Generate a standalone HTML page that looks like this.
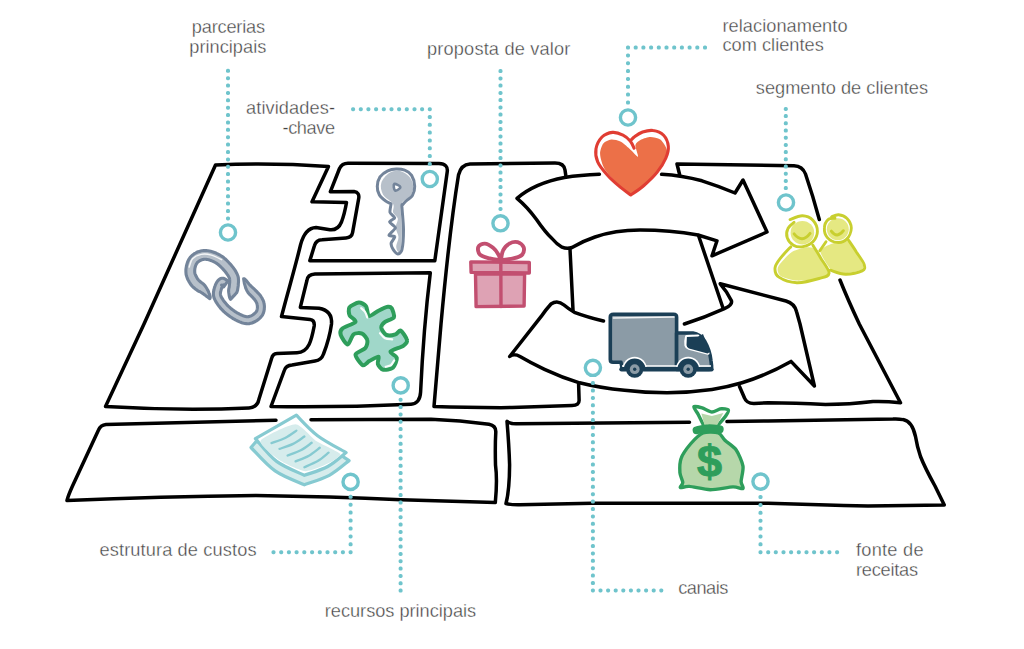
<!DOCTYPE html>
<html><head><meta charset="utf-8"><title>Business Model Canvas</title>
<style>
html,body{margin:0;padding:0;background:#fff;}
body{width:1024px;height:649px;overflow:hidden;}
svg{display:block;}
text{font-family:"Liberation Sans",sans-serif;font-size:18.2px;fill:#424242;stroke:#fff;stroke-width:.35px;}
</style></head><body>
<svg width="1024" height="649" viewBox="0 0 1024 649">
<rect width="1024" height="649" fill="#fff"/>
<g id="outlines">
<path d="M215.5,165 Q270,162.5 328.5,166.5 L312,201.8 L346.5,202.5 Q344.5,214 341.5,222 Q338,230.5 330,229.8 L316,227.6 Q305,228 300.5,245 C295,268 287,295 281.5,316.5 L310,319.4 Q314.8,320 314.2,326 C311.5,340 309,352.5 297,352.7 L277,353.4 Q272.6,353.7 271.6,358.5 L259,399 Q257.5,407.5 249,408 Q180,411 105.5,406.5 L144,324 Z" fill="none" stroke="#000" stroke-width="3.5" stroke-linecap="round" stroke-linejoin="round"/>
<path d="M339.5,168.5 Q342,163.2 348,163.2 L439,163.6 Q448.5,164 447.2,172 L434.8,260.8 L309.8,260.8 L314.5,245.5 Q316,240 322,239.7 L346,237.9 Q351.8,237.5 352.6,232.5 L358.6,199 Q360,192.5 354,191.6 L330.3,191.8 Z" fill="none" stroke="#000" stroke-width="3.5" stroke-linecap="round" stroke-linejoin="round"/>
<path d="M306.8,281 Q307.5,274.2 315,274 L430.3,272.8 C427,300 423,340 420.6,392 Q420,403.6 411,404.2 Q340,407.5 271,406.5 L284.5,370 Q286,365.5 292,365 L315,361 Q321.5,360 323.5,354 C327,345 330,335 331.5,324 Q332.5,310.5 319,308.2 L300.3,307.4 Z" fill="none" stroke="#000" stroke-width="3.5" stroke-linecap="round" stroke-linejoin="round"/>
<path d="M565.8,175.5 L565,170 Q564,163 555,163 L470,164 Q461,164.5 458.5,175 C452,215 445,280 441,324 L434,406.5 Q470,407.8 512,407.6 L572,405.6 Q579.4,405.3 579.1,400 L578.6,384" fill="none" stroke="#000" stroke-width="3.5" stroke-linecap="round" stroke-linejoin="round"/>
<path d="M599.4,174.3 Q580,175 564.5,177.5 Q535,183 517,198.3 Q527.5,207 536.5,219.5 Q545,232 552,238.5 Q557,244.5 562,247.2 Q567,249.3 572,247.5 Q583,241 595,237 Q615,230 640,230 Q670,230 698,235 L717,240.8 L712,255.8 L767,232 L743,180 L735,193 Q720,186.5 702,180.8 Q682,175.5 661.6,174.3" fill="none" stroke="#000" stroke-width="3.5" stroke-linecap="round" stroke-linejoin="round"/>
<path d="M570,249 L573,310" fill="none" stroke="#000" stroke-width="3.5" stroke-linecap="round" stroke-linejoin="round"/>
<path d="M698.5,235.5 L723,308" fill="none" stroke="#000" stroke-width="3.5" stroke-linecap="round" stroke-linejoin="round"/>
<path d="M603.5,321 Q587,317 574.4,312.3 Q568,308.5 564,305 Q557.5,299.5 551,304 Q545.5,310 541,316.7 L509.7,356.5 Q514,353 520,356.5 Q531,363 544.5,369.3 Q562,377.5 579.5,382.8 Q600,388 624.5,390.3 Q645,392.8 667,392.8 Q690,392.6 712,389.5 Q728,387 742,382.8 Q767,375 791,361.4 L814.4,386 L800,324 L796.5,311.5 Q794.5,303.5 786,301 Q750,291.5 720.2,283.8 Q727,291.5 731.3,300.4 Q733,305 724.4,308.7 Q705,317.5 684.4,324" fill="none" stroke="#000" stroke-width="3.5" stroke-linecap="round" stroke-linejoin="round"/>
<path d="M679.6,174.5 L677,164 L794,165.7 Q802.5,166 805.5,174 Q813,196 819.3,219.5" fill="none" stroke="#000" stroke-width="3.5" stroke-linecap="round" stroke-linejoin="round"/>
<path d="M840,280 Q848,300 859.3,324 L900.5,402.8 Q885,401 873,401.5 Q850,404.5 825.5,404.5 Q795,402.8 768,402.8 L754,403.4 Q746.5,403.5 744.5,398 L739.5,386.5" fill="none" stroke="#000" stroke-width="3.5" stroke-linecap="round" stroke-linejoin="round"/>
<path d="M276,420.3 L106,424.5 Q100.5,425 98.5,430 L72.5,486 Q68,496 67,500.5 Q160,496.5 256,495.5 Q330,496.5 401,499.8 L495.3,502.6 Q497.5,480 495.5,465 Q495,445 495.8,432 Q496,425.5 489,424.2 Q460,420.3 431,419.2 L311,419.8" fill="none" stroke="#000" stroke-width="3.5" stroke-linecap="round" stroke-linejoin="round"/>
<path d="M689.5,422.3 L517,423.8 Q510,424 507,421.3 Q509,445 509.6,464.7 Q509.5,490 506,503.5 Q511,505 520,504.8 L592,503.2 L768,503.2 Q820,505 868,506 L944.3,505 L935,486 Q925,468 920.5,456.5 Q917,446 915.5,436.5 Q912,421 903,419.6 Q898,418.6 893,419 L768,421 L727,421.6" fill="none" stroke="#000" stroke-width="3.5" stroke-linecap="round" stroke-linejoin="round"/>
</g>
<g id="icons">
<path d="M243.6,278.8 L243.7,279.2 L243.8,279.8 L243.9,280.5 L244.0,281.2 L244.2,282.1 L244.3,283.0 L244.5,283.9 L244.8,284.9 L245.1,285.9 L245.4,286.9 L245.7,288.0 L246.2,289.1 L246.7,290.2 L247.3,291.3 L248.0,292.5 L248.8,293.5 L249.7,294.5 L250.7,295.4 L251.6,296.3 L252.5,297.2 L253.3,298.1 L254.0,298.8 L254.6,299.6 L255.0,300.2 L255.5,300.8 L255.8,301.4 L256.2,302.0 L256.4,302.5 L256.7,303.0 L256.8,303.5 L257.0,303.9 L257.1,304.3 L257.2,304.8 L257.3,305.2 L257.3,305.7 L257.4,306.2 L257.4,306.8 L257.4,307.3 L257.4,307.9 L257.3,308.5 L257.2,309.0 L257.1,309.6 L257.0,310.1 L256.8,310.6 L256.7,311.0 L256.4,311.4 L256.2,311.8 L255.9,312.1 L255.6,312.5 L255.1,313.0 L254.6,313.5 L253.9,314.0 L253.3,314.5 L252.6,315.0 L251.9,315.4 L251.1,315.8 L250.4,316.1 L249.8,316.3 L249.2,316.5 L248.6,316.6 L248.1,316.7 L247.5,316.7 L246.8,316.7 L246.1,316.6 L245.4,316.4 L244.7,316.2 L243.9,316.0 L243.1,315.7 L242.3,315.4 L241.4,315.0 L240.5,314.6 L239.6,314.2 L238.7,313.7 L237.7,313.2 L236.7,312.6 L235.7,311.9 L234.7,311.3 L233.6,310.5 L232.6,309.8 L231.6,309.0 L230.6,308.2 L229.7,307.4 L228.8,306.6 L228.0,305.9 L227.2,305.1 L226.5,304.2 L225.7,303.3 L224.9,302.4 L224.2,301.5 L223.5,300.6 L222.9,299.6 L222.3,298.7 L221.8,297.9 L221.3,297.1 L221.0,296.3 L220.7,295.6 L220.6,295.1 L220.5,294.6 L220.4,294.0 L220.4,293.5 L220.4,292.9 L220.5,292.4 L220.6,291.8 L220.8,291.1 L220.9,290.5 L221.1,289.9 L221.3,289.2 L221.5,288.6 L221.7,288.1 L221.8,287.6 L222.1,287.2 L222.3,286.7 L222.5,286.3 L222.8,285.9 L223.0,285.5 L223.2,285.2 L223.4,285.0 L223.5,284.9 L223.5,284.9 L223.2,285.1 L222.5,285.2 L221.9,285.2 L221.6,285.1 L221.6,285.1 L221.7,285.2 L221.9,285.3 L222.1,285.5 L222.4,285.8 L222.7,286.1 L223.0,286.3 L223.4,286.7 L223.7,286.9 L227.8,281.2 L227.7,281.2 L227.6,281.1 L227.4,280.9 L227.1,280.6 L226.7,280.2 L226.2,279.8 L225.7,279.4 L225.0,279.0 L224.2,278.6 L223.2,278.3 L221.9,278.3 L220.5,278.6 L219.6,279.1 L218.9,279.7 L218.3,280.2 L217.8,280.8 L217.3,281.4 L216.9,282.1 L216.5,282.8 L216.1,283.5 L215.7,284.2 L215.4,285.0 L215.1,285.8 L214.8,286.5 L214.6,287.2 L214.4,287.9 L214.2,288.6 L214.0,289.5 L213.8,290.3 L213.6,291.3 L213.5,292.3 L213.4,293.3 L213.4,294.4 L213.5,295.6 L213.8,296.8 L214.1,298.0 L214.6,299.1 L215.1,300.2 L215.7,301.3 L216.3,302.4 L217.1,303.5 L217.8,304.6 L218.6,305.7 L219.5,306.8 L220.3,307.9 L221.2,308.9 L222.2,309.9 L223.1,310.8 L224.1,311.8 L225.1,312.7 L226.2,313.6 L227.3,314.5 L228.4,315.4 L229.6,316.2 L230.7,317.0 L231.9,317.8 L233.1,318.6 L234.2,319.2 L235.4,319.9 L236.5,320.4 L237.5,321.0 L238.6,321.4 L239.6,321.9 L240.7,322.3 L241.8,322.7 L242.8,323.0 L243.9,323.3 L245.0,323.5 L246.2,323.6 L247.3,323.7 L248.5,323.7 L249.6,323.6 L250.8,323.3 L252.0,323.0 L253.1,322.5 L254.2,322.0 L255.3,321.5 L256.3,320.9 L257.3,320.2 L258.2,319.6 L259.1,318.8 L259.9,318.1 L260.6,317.4 L261.3,316.6 L262.0,315.7 L262.6,314.8 L263.0,313.9 L263.4,313.0 L263.7,312.0 L264.0,311.1 L264.1,310.2 L264.3,309.3 L264.3,308.4 L264.4,307.5 L264.4,306.7 L264.4,305.9 L264.3,305.1 L264.2,304.3 L264.1,303.5 L263.9,302.7 L263.7,301.8 L263.4,301.0 L263.1,300.2 L262.7,299.5 L262.3,298.7 L261.9,297.9 L261.3,297.0 L260.8,296.2 L260.1,295.2 L259.3,294.3 L258.4,293.3 L257.5,292.4 L256.6,291.4 L255.6,290.5 L254.7,289.5 L253.8,288.6 L252.9,287.8 L252.1,287.1 L251.3,286.4 L250.6,285.8 L250.0,285.1 L249.4,284.5 L248.8,283.8 L248.2,283.1 L247.6,282.3 L247.1,281.6 L246.6,281.0 L246.0,280.3 L245.5,279.8 L245.0,279.3 L244.5,278.9 L243.6,278.8Z" fill="#b7c0ca" stroke="#73849a" stroke-width="3.1" stroke-linejoin="round"/>
<path d="M209.8,298.7 L210.2,297.7 L210.2,296.8 L210.0,295.9 L209.7,294.9 L209.4,293.9 L208.9,292.8 L208.5,291.7 L208.0,290.6 L207.4,289.6 L206.8,288.5 L206.2,287.5 L205.6,286.6 L204.9,285.6 L204.1,284.7 L203.3,284.0 L202.5,283.3 L201.8,282.8 L201.0,282.2 L200.4,281.7 L199.8,281.2 L199.3,280.8 L198.8,280.4 L198.4,279.9 L198.1,279.5 L197.6,278.9 L197.2,278.2 L196.8,277.5 L196.4,276.8 L196.0,276.1 L195.7,275.4 L195.4,274.7 L195.1,274.0 L194.9,273.4 L194.8,272.7 L194.7,272.2 L194.7,271.6 L194.7,270.9 L194.7,270.1 L194.8,269.3 L194.9,268.4 L195.1,267.5 L195.3,266.7 L195.6,265.8 L195.9,265.0 L196.2,264.3 L196.5,263.7 L196.9,263.2 L197.2,262.8 L197.6,262.3 L198.1,261.9 L198.6,261.5 L199.2,261.1 L199.9,260.7 L200.6,260.3 L201.3,260.0 L202.0,259.8 L202.7,259.6 L203.5,259.4 L204.2,259.3 L204.9,259.3 L205.7,259.3 L206.6,259.4 L207.6,259.6 L208.6,259.8 L209.7,260.1 L210.8,260.5 L211.9,260.9 L213.0,261.4 L214.1,261.9 L215.2,262.5 L216.2,263.1 L217.2,263.8 L218.2,264.5 L219.2,265.4 L220.3,266.4 L221.4,267.5 L222.6,268.7 L223.7,269.9 L224.7,271.1 L225.7,272.3 L226.6,273.5 L227.4,274.7 L228.1,275.7 L228.6,276.6 L229.0,277.4 L229.3,278.0 L229.5,278.6 L229.6,279.2 L229.7,279.7 L229.7,280.3 L229.7,280.9 L229.7,281.6 L229.7,282.4 L229.6,283.2 L229.5,284.2 L229.4,285.2 L229.3,286.1 L229.2,287.1 L228.9,288.3 L228.7,289.5 L228.6,290.8 L228.7,292.2 L228.9,293.6 L229.1,294.9 L229.3,296.2 L229.6,297.4 L230.0,298.4 L230.6,299.3 L230.6,299.3 L231.2,298.7 L231.8,298.0 L232.6,297.1 L233.5,296.1 L234.5,295.1 L235.5,294.0 L236.6,292.8 L237.2,291.4 L237.6,290.0 L237.8,288.6 L238.0,287.3 L238.2,286.0 L238.3,285.0 L238.3,284.0 L238.4,283.1 L238.5,282.1 L238.5,281.0 L238.5,279.9 L238.4,278.7 L238.3,277.5 L238.0,276.3 L237.5,275.0 L237.0,273.7 L236.3,272.4 L235.6,271.1 L234.7,269.7 L233.7,268.3 L232.6,266.9 L231.5,265.5 L230.3,264.1 L229.0,262.7 L227.7,261.3 L226.4,260.0 L225.0,258.8 L223.7,257.6 L222.3,256.6 L220.9,255.7 L219.5,254.8 L218.1,254.1 L216.6,253.4 L215.2,252.7 L213.7,252.2 L212.2,251.7 L210.7,251.3 L209.3,251.0 L207.8,250.7 L206.4,250.6 L205.0,250.5 L203.6,250.6 L202.1,250.7 L200.7,251.0 L199.4,251.4 L198.1,251.8 L196.8,252.3 L195.6,253.0 L194.5,253.6 L193.4,254.4 L192.4,255.2 L191.4,256.1 L190.5,257.0 L189.7,258.1 L188.9,259.3 L188.3,260.5 L187.7,261.7 L187.3,263.0 L186.9,264.3 L186.5,265.6 L186.3,266.9 L186.1,268.1 L185.9,269.4 L185.9,270.6 L185.9,271.9 L186.0,273.1 L186.1,274.4 L186.4,275.6 L186.8,276.8 L187.2,277.9 L187.6,279.0 L188.1,280.0 L188.7,281.0 L189.2,282.0 L189.8,282.9 L190.3,283.8 L191.0,284.7 L191.7,285.6 L192.5,286.5 L193.3,287.3 L194.2,288.0 L195.0,288.7 L195.8,289.3 L196.5,289.8 L197.2,290.3 L197.8,290.8 L198.6,291.2 L199.3,291.4 L200.0,291.7 L200.8,292.2 L201.6,292.7 L202.6,293.3 L203.5,294.0 L204.5,294.7 L205.4,295.4 L206.3,296.1 L207.2,296.7 L208.0,297.3 L208.7,297.9 L209.3,298.4 L209.8,298.7Z" fill="#b7c0ca" stroke="#73849a" stroke-width="3.1" stroke-linejoin="round"/>
<path d="M189.2,267.1 C189.8,265.7 190.5,260.9 192.5,258.8 C194.5,256.7 198.1,255.0 201.3,254.4 C204.4,253.7 208.0,254.2 211.4,255.1 C214.8,256.0 219.9,258.9 221.6,259.7" fill="none" stroke="#fff" stroke-width="1.4" stroke-linecap="round" opacity=".85"/>
<path d="M393.1,203.9 C391.5,201.0 385.1,198.1 383.1,194.7 C381.1,191.2 380.2,186.7 381.3,183.1 C382.3,179.5 386.1,175.1 389.3,173.1 C392.4,171.1 396.6,170.3 400.1,171.1 C403.5,171.9 407.9,174.9 410.1,177.7 C412.3,180.5 413.2,184.7 413.2,187.7 C413.2,190.8 412.1,193.4 410.1,196.2 C408.1,199.0 402.7,199.2 401.3,204.7 C399.9,210.2 402.0,222.0 401.9,229.3 C401.8,236.7 401.5,244.9 400.8,248.6 C400.2,252.3 398.8,252.1 398.1,251.7 C397.3,251.3 396.1,248.7 396.2,246.3 C396.3,243.8 398.6,240.1 398.5,237.0 C398.4,234.0 395.9,230.9 395.7,227.8 C395.6,224.7 398.2,221.1 397.8,218.6 C397.3,216.0 393.9,214.8 393.1,212.4 C392.4,209.9 394.8,206.9 393.1,203.9Z" fill="#b7c0ca"/>
<path d="M391.1,203.9 C390.2,203.4 387.4,202.4 385.4,200.8 C383.4,199.3 380.6,197.1 379.3,194.7 C377.9,192.2 377.1,189.1 377.3,186.2 C377.4,183.2 378.3,179.5 380.0,176.9 C381.8,174.4 385.0,172.1 387.7,170.8 C390.4,169.5 393.4,169.0 396.2,168.9 C399.0,168.8 402.1,169.1 404.7,170.2 C407.3,171.2 409.9,172.7 411.6,175.4 C413.3,178.1 414.6,182.9 414.7,186.2 C414.8,189.5 413.8,193.0 412.4,195.4 C411.0,197.9 407.9,199.2 406.2,200.8 C404.6,202.4 403.0,204.3 402.4,205.0  C402.3,205.1 401.8,203.4 401.9,206.2 C402.0,209.1 403.5,224.3 403.5,229.3 C403.5,234.4 402.6,247.0 401.9,249.8 C401.2,252.7 398.8,254.0 397.8,254.0 C396.7,253.9 393.9,250.6 393.1,249.4 C392.4,248.1 390.9,244.7 391.1,243.2 C391.3,241.7 395.1,237.5 394.8,236.6 C394.6,235.6 388.9,236.2 389.0,235.2 C389.0,234.2 395.4,229.3 395.4,227.8 C395.5,226.3 389.7,223.1 389.6,221.9 C389.5,220.8 394.6,218.9 394.7,217.8 C394.7,216.7 390.5,214.0 390.0,212.4 C389.6,210.8 391.0,204.9 391.1,203.9" fill="none" stroke="#73849a" stroke-width="3" stroke-linecap="round" stroke-linejoin="round"/>
<path d="M394.2,184.0 C395.3,183.4 400.2,185.8 400.4,187.1 C400.6,188.4 396.4,191.1 395.1,190.5 C393.9,189.9 393.2,184.7 394.2,184.0Z" fill="#fff" stroke="#73849a" stroke-width="2.6" stroke-linejoin="round"/>
<path d="M475.5,274.1 L524.6,274.1 L524.1,306.0 L476.1,306.6 Z" fill="#dea2b4" stroke="#c24f70" stroke-width="3.4" stroke-linecap="round" stroke-linejoin="round"/>
<path d="M470.8,261.9 L529.3,262.5 L529.3,273.0 L471.1,272.4 Z" fill="#dea2b4" stroke="#c24f70" stroke-width="3.4" stroke-linecap="round" stroke-linejoin="round"/>
<path d="M500.8,260.8 L501.0,306.6" fill="none" stroke="#c24f70" stroke-width="3.4" stroke-linecap="round" stroke-linejoin="round"/>
<path d="M500.5,260.2 C498.7,259.9 493.1,259.4 489.7,258.4 C486.3,257.5 481.9,256.6 480.0,254.7 C478.1,252.8 477.5,248.8 478.3,246.9 C479.1,245.1 482.3,243.5 484.8,243.6 C487.3,243.7 490.8,245.9 493.1,247.8 C495.5,249.6 497.5,252.9 498.7,255.0 C499.9,257.0 500.2,259.4 500.5,260.2" fill="none" stroke="#c24f70" stroke-width="3.9" stroke-linecap="round" stroke-linejoin="round"/>
<path d="M501.0,260.2 C501.3,258.7 501.5,253.6 502.9,250.8 C504.2,248.0 506.9,245.0 509.4,243.6 C511.8,242.2 515.3,241.6 517.7,242.2 C520.1,242.8 523.0,245.2 523.7,247.3 C524.3,249.5 523.6,253.1 521.9,255.0 C520.1,256.8 516.7,257.6 513.3,258.4 C509.8,259.3 503.1,259.9 501.0,260.2" fill="none" stroke="#c24f70" stroke-width="3.9" stroke-linecap="round" stroke-linejoin="round"/>
<path d="M630.8,194.0 C626.3,194.8 621.2,187.5 617.7,184.2 C614.3,180.9 607.0,173.1 604.6,169.1 C602.3,165.1 600.2,157.5 600.1,154.1 C599.9,150.6 601.9,145.5 603.3,143.6 C604.8,141.7 608.9,139.9 611.2,139.6 C613.5,139.4 617.9,140.4 620.4,141.6 C622.8,142.8 627.2,146.8 629.5,148.8 C631.9,150.8 637.3,157.2 638.0,156.7 C638.8,156.1 635.0,147.2 635.4,144.9 C635.9,142.6 639.3,140.7 641.3,139.6 C643.3,138.6 648.0,137.0 650.5,137.0 C653.0,137.0 658.1,137.9 660.3,139.6 C662.5,141.4 666.3,147.0 666.9,150.1 C667.4,153.3 666.2,159.5 664.2,163.2 C662.2,167.0 656.3,174.2 651.8,178.3 C647.3,182.4 635.4,193.2 630.8,194.0Z" fill="#ec7048"/>
<path d="M634.1,148.2 C633.5,147.0 632.0,143.1 630.2,141.0 C628.3,138.8 625.9,136.5 623.0,135.1 C620.0,133.6 616.0,132.1 612.5,132.4 C609.0,132.8 604.8,134.3 602.0,137.0 C599.3,139.8 596.7,144.7 596.0,148.8 C595.3,153.0 595.8,157.5 597.7,161.9 C599.6,166.3 603.7,171.0 607.3,175.0 C610.8,179.0 615.1,182.8 619.1,186.1 C623.0,189.5 628.9,193.6 630.8,195.0 C633.0,193.5 639.6,189.3 643.9,185.5 C648.3,181.7 653.4,177.0 657.0,172.4 C660.7,167.8 664.1,162.3 665.9,158.0 C667.8,153.6 668.7,150.0 668.3,146.2 C667.9,142.4 666.1,137.9 663.6,135.3 C661.1,132.7 656.6,131.0 653.1,130.5 C649.6,129.9 645.7,131.0 642.6,132.0 C639.6,133.1 636.8,135.1 634.8,136.6 C632.7,138.1 631.0,140.2 630.2,141.0" fill="none" stroke="#e03d33" stroke-width="3.1" stroke-linecap="round" stroke-linejoin="round"/>
<path d="M828.1,245.2 C831.3,244.0 844.2,239.1 848.2,241.3 C852.3,243.6 861.3,261.3 862.8,264.6 C864.2,268.0 862.7,269.2 860.7,270.2 C858.7,271.2 848.8,273.0 845.4,273.0 C842.0,273.0 834.5,272.6 831.6,270.2 C828.7,267.8 820.9,255.1 820.5,252.2 C820.1,249.2 824.9,246.5 828.1,245.2Z" fill="#e5e882"/>
<circle cx="837.8" cy="229.3" r="11" fill="#e5e882"/>
<path d="M826.0,241.8 C825.0,243.3 820.8,249.3 819.8,250.8" fill="none" stroke="#c8cf2f" stroke-width="2.9" stroke-linecap="round" stroke-linejoin="round"/>
<path d="M848.2,239.7 C849.6,241.8 853.9,248.0 856.5,252.2 C859.2,256.3 863.2,261.5 864.2,264.6 C865.1,267.8 865.2,269.3 862.1,270.9 C859.0,272.5 850.8,274.5 845.4,274.3 C840.1,274.2 832.7,270.9 830.2,270.2" fill="none" stroke="#c8cf2f" stroke-width="2.9" stroke-linecap="round" stroke-linejoin="round"/>
<path d="M835.0,218.2 C833.9,218.4 829.9,217.9 828.1,219.6 C826.3,221.2 824.5,224.9 824.4,227.9 C824.2,230.9 825.3,235.2 827.4,237.6 C829.5,240.0 833.9,242.2 837.1,242.4 C840.4,242.7 844.5,241.4 846.8,239.0 C849.2,236.6 851.3,231.4 851.3,227.9 C851.3,224.4 849.0,220.4 846.8,218.2 C844.7,216.0 841.1,214.9 838.5,214.7 C836.0,214.5 832.7,216.4 831.6,216.8" fill="none" stroke="#c8cf2f" stroke-width="2.9" stroke-linecap="round" stroke-linejoin="round"/>
<path d="M831.3,231.1 Q837.1,239.0 843.4,230.7" fill="none" stroke="#c8cf2f" stroke-width="2.9" stroke-linecap="round" stroke-linejoin="round"/>
<path d="M792.7,251.5 C796.8,249.3 808.7,245.6 812.9,248.0 C817.0,250.4 827.5,268.7 828.1,272.3 C828.7,275.8 821.3,277.5 817.7,278.5 C814.1,279.5 801.3,280.9 796.9,280.6 C792.5,280.3 782.4,277.4 780.3,275.7 C778.1,274.1 776.7,269.6 778.2,266.7 C779.6,263.9 788.7,253.6 792.7,251.5Z" fill="#e5e882"/>
<circle cx="802.4" cy="232.7" r="11.8" fill="#e5e882"/>
<path d="M790.7,246.9 C788.9,248.8 782.9,254.9 780.3,258.4 C777.6,261.9 775.2,265.0 775.0,268.1 C774.8,271.2 775.2,274.7 778.9,277.1 C782.5,279.5 790.2,282.4 796.9,282.7 C803.6,282.9 813.7,280.1 819.1,278.5 C824.5,276.9 828.8,276.7 829.1,273.2 C829.3,269.8 823.2,262.4 820.5,257.7 C817.8,253.0 814.1,247.3 812.9,245.2" fill="none" stroke="#c8cf2f" stroke-width="2.9" stroke-linecap="round" stroke-linejoin="round"/>
<path d="M794.1,222.3 C793.1,223.4 789.0,226.0 787.9,228.6 C786.7,231.1 786.3,234.8 787.2,237.6 C788.1,240.4 790.8,243.7 793.4,245.2 C796.1,246.7 799.9,247.2 803.1,246.6 C806.4,246.0 810.5,244.3 812.9,241.8 C815.2,239.2 817.4,234.9 817.4,231.4 C817.4,227.8 815.3,222.8 812.9,220.3 C810.4,217.7 806.3,215.9 802.4,215.8 C798.6,215.7 792.0,218.9 790.0,219.6" fill="none" stroke="#c8cf2f" stroke-width="2.9" stroke-linecap="round" stroke-linejoin="round"/>
<path d="M794.1,233.8 Q802.2,243.8 810.1,233.4" fill="none" stroke="#c8cf2f" stroke-width="2.9" stroke-linecap="round" stroke-linejoin="round"/>
<path d="M358.8,302.6 C361.0,302.4 364.7,304.4 366.0,306.1 C367.4,307.9 367.4,315.3 369.0,316.0 C370.7,316.6 376.0,311.9 378.5,310.7 C380.9,309.5 385.9,307.1 387.6,306.8 C389.4,306.4 390.7,306.7 391.6,308.1 C392.4,309.5 394.8,315.4 393.9,317.3 C393.0,319.1 386.7,320.5 385.0,321.9 C383.3,323.2 381.2,326.0 381.3,327.7 C381.5,329.5 384.4,334.1 386.3,334.9 C388.2,335.8 393.6,334.9 395.5,334.3 C397.4,333.7 399.2,329.8 400.7,330.6 C402.3,331.4 406.7,338.2 407.0,340.2 C407.4,342.2 405.5,344.3 403.3,345.8 C401.1,347.3 391.4,350.0 390.5,351.6 C389.6,353.2 396.5,355.7 396.8,357.9 C397.1,360.0 394.7,366.1 392.9,367.7 C391.0,369.3 385.1,370.2 383.0,369.7 C381.0,369.1 378.4,365.5 377.8,363.8 C377.2,362.0 379.6,356.9 378.5,356.6 C377.3,356.2 371.4,360.0 369.3,361.1 C367.2,362.3 364.6,365.9 362.7,365.1 C360.9,364.2 355.2,356.9 355.5,354.6 C355.9,352.3 363.8,350.0 365.4,348.0 C366.9,346.1 367.8,342.1 367.3,340.2 C366.9,338.3 363.9,334.4 362.1,333.6 C360.3,332.9 355.5,332.8 353.6,334.3 C351.7,335.7 349.4,344.4 347.7,344.5 C346.0,344.6 341.4,337.1 340.7,334.9 C340.0,332.8 340.5,330.1 342.4,328.4 C344.4,326.7 354.6,323.6 355.5,321.9 C356.5,320.1 350.5,317.2 349.6,315.3 C348.8,313.4 348.2,309.1 349.4,307.4 C350.6,305.7 356.6,302.8 358.8,302.6Z" fill="#a0d7c9" stroke="#2e9e5b" stroke-width="4" stroke-linejoin="round"/>
<path d="M361.2,308.1 C361.8,308.8 364.1,310.5 365.1,312.0 C366.1,313.6 367.0,316.6 367.3,317.5" fill="none" stroke="#fff" stroke-width="2.2" stroke-linecap="round" opacity=".95"/>
<path d="M380.0,333.2 C380.9,334.1 383.0,337.2 385.0,338.2 C387.0,339.2 391.0,339.1 392.2,339.3" fill="none" stroke="#fff" stroke-width="2.2" stroke-linecap="round" opacity=".95"/>
<path d="M385.7,366.8 C386.5,366.5 389.5,366.1 390.9,365.1 C392.3,364.0 393.6,361.3 394.2,360.5" fill="none" stroke="#fff" stroke-width="2.2" stroke-linecap="round" opacity=".95"/>
<path d="M613.5,314.2 L673.5,314.2 Q676.6,314.2 676.6,317 L676.6,368 L622,368 L621,362.3 L613,362.3 Q610.3,362.3 610.3,359.5 L610.3,317 Q610.3,314.2 613.5,314.2Z" fill="#8b9ba6" stroke="#1b3f56" stroke-width="3.6" stroke-linecap="round" stroke-linejoin="round"/>
<path d="M613.5,318 L674,317" fill="none" stroke="#fff" stroke-width="1.6" stroke-linecap="round" opacity=".9"/>
<path d="M676.6,333 L693,333 Q700,334 704.5,341 Q710,350.5 711,361 L711.6,366 Q712,369.5 709,369.5 L676.6,369.5Z" fill="#8b9ba6" stroke="#1b3f56" stroke-width="3.6" stroke-linecap="round" stroke-linejoin="round"/>
<path d="M698,336.2 L686.6,336.6 Q685.4,341 686,345.5 Q686.5,347.6 689,348.3 L708,353.2" fill="none" stroke="#fff" stroke-width="3.2" stroke-linejoin="round" stroke-linecap="round"/>
<path d="M686.9,337 L698,336.4 L703,334 L710,352 L707.5,353.4 L689,348.5 Q686.6,347.5 686.5,345Z" fill="#1b3f56"/>
<path d="M622.5,369 A12.2,12.2 0 0 1 646.9,369Z" fill="#fff"/>
<path d="M676.0,369 A12.2,12.2 0 0 1 700.4,369Z" fill="#fff"/>
<path d="M622,366 L711,366" stroke="#fff" stroke-width="1.4" fill="none"/>
<path d="M621.5,369.2 L711.5,369.2" stroke="#1b3f56" stroke-width="4.4" stroke-linecap="round" fill="none"/>
<path d="M623.8,369.5 A10.9,10.9 0 0 1 645.6,369.5Z" fill="#1b3f56"/>
<circle cx="634.7" cy="369.2" r="8.6" fill="#1b3f56"/>
<circle cx="634.7" cy="369.2" r="4.9" fill="#8b9ba6"/>
<circle cx="634.7" cy="369.2" r="1.7" fill="#1b3f56"/>
<path d="M677.3,369.5 A10.9,10.9 0 0 1 699.1,369.5Z" fill="#1b3f56"/>
<circle cx="688.2" cy="369.2" r="8.6" fill="#1b3f56"/>
<circle cx="688.2" cy="369.2" r="4.9" fill="#8b9ba6"/>
<circle cx="688.2" cy="369.2" r="1.7" fill="#1b3f56"/>
<path d="M703.0,433.0 C699.4,434.4 693.8,440.2 690.9,443.5 C688.0,446.9 682.6,454.2 681.2,458.1 C679.7,462.0 679.7,469.4 679.9,472.7 C680.1,475.9 682.7,480.4 682.8,482.4 C682.9,484.4 679.5,487.0 680.4,487.6 C681.2,488.1 685.3,486.1 689.3,486.4 C693.3,486.7 704.5,489.6 710.3,489.7 C716.1,489.7 728.6,487.1 733.0,486.9 C737.3,486.8 741.9,489.2 743.0,488.5 C744.1,487.8 741.1,484.5 741.1,481.6 C741.1,478.6 743.6,470.4 743.0,466.2 C742.3,462.0 738.6,453.5 736.2,450.0 C733.8,446.6 727.2,442.6 724.9,440.3 C722.5,438.0 721.3,434.0 718.4,433.0 C715.5,432.1 706.7,431.6 703.0,433.0Z" fill="#b6d7aa" stroke="#2e9e5b" stroke-width="3.4" stroke-linecap="round" stroke-linejoin="round"/>
<path d="M703.8,425.7 C703.2,424.4 699.3,416.6 698.2,414.4 C697.0,412.2 693.3,407.4 693.8,406.7 C694.3,405.9 700.1,407.3 702.2,407.9 C704.3,408.6 709.8,411.9 711.9,412.0 C714.1,412.1 718.9,409.0 720.8,408.8 C722.8,408.5 727.9,409.0 728.4,409.9 C729.0,410.7 726.9,414.2 725.7,416.0 C724.4,417.9 718.5,424.6 717.6,425.7" fill="#fff" stroke="#2e9e5b" stroke-width="3.4" stroke-linecap="round" stroke-linejoin="round"/>
<path d="M701.4,413.6 L711.9,416.0 L723.3,413.1 L716.8,425.7 L704.6,425.7Z" fill="#b6d7aa"/>
<path d="M696.6,430.3 C698.6,429.9 704.8,428.3 708.7,428.2 C712.5,428.0 717.9,429.1 719.7,429.3" fill="none" stroke="#2e9e5b" stroke-width="8" stroke-linecap="round"/>
<text x="709.5" y="476.7" text-anchor="middle" style="font-family:'Liberation Sans',sans-serif;font-weight:bold;font-size:45px;fill:#2e9e5b;stroke:#2e9e5b;stroke-width:1px">$</text>
<path d="M251.0,447.5 C255.0,451.4 266.2,464.7 275.1,470.9 C284.0,477.1 299.5,482.5 304.4,484.8 C308.6,483.2 321.9,479.3 329.3,475.3 C336.8,471.3 345.8,463.1 349.1,460.6 C348.0,459.9 343.6,457.0 342.5,456.2 C328.1,453.8 270.5,444.0 256.1,441.6 C255.3,442.6 251.8,446.5 251.0,447.5Z" fill="#d6ecec" stroke="#86cad1" stroke-width="3.2" stroke-linecap="round" stroke-linejoin="round"/>
<path d="M255.4,438.7 C258.9,442.5 268.4,455.3 276.6,461.4 C284.8,467.5 299.8,473.0 304.4,475.3 C308.3,473.8 320.9,470.3 327.8,466.5 C334.8,462.7 343.1,454.9 346.1,452.6 C341.4,449.8 325.9,442.0 317.6,435.7 C309.3,429.5 299.9,418.7 296.4,415.2 C289.5,419.2 262.2,434.8 255.4,438.7Z" fill="#fff" stroke="#86cad1" stroke-width="3.2" stroke-linecap="round" stroke-linejoin="round"/>
<path d="M260.5,440.9 C262.0,437.3 289.8,424.3 295.3,424.3 C300.9,424.3 311.6,437.9 316.1,440.9 C320.6,443.8 339.1,451.8 340.3,454.0 C341.5,456.3 331.4,461.9 327.8,463.6 C324.3,465.3 310.0,471.5 305.2,471.2 C300.4,470.9 284.3,463.4 279.8,460.3 C275.4,457.3 258.9,444.5 260.5,440.9Z" fill="#d6ecec"/>
<path d="M271.5,443.1 C273.7,442.2 280.9,440.1 285.1,438.0 C289.2,435.9 294.5,431.9 296.4,430.6" fill="none" stroke="#86cad1" stroke-width="2.3" stroke-linecap="round"/>
<path d="M279.5,448.9 C281.8,448.1 289.0,445.9 293.1,443.9 C297.3,441.8 302.5,437.7 304.4,436.5" fill="none" stroke="#86cad1" stroke-width="2.3" stroke-linecap="round"/>
<path d="M287.6,455.5 C289.8,454.6 296.8,452.4 300.8,450.3 C304.9,448.2 309.9,444.0 311.7,442.8" fill="none" stroke="#86cad1" stroke-width="2.3" stroke-linecap="round"/>
<path d="M295.6,461.4 C297.8,460.4 304.9,458.0 308.9,455.7 C312.9,453.5 318.0,449.1 319.8,447.8" fill="none" stroke="#86cad1" stroke-width="2.3" stroke-linecap="round"/>
<path d="M304.4,467.2 C306.6,466.2 313.6,463.5 317.7,461.1 C321.7,458.6 326.8,454.0 328.6,452.6" fill="none" stroke="#86cad1" stroke-width="2.3" stroke-linecap="round"/>
</g>
<g id="dots">
<g fill="#6fc4cc"><rect x="226.0" y="68.8" width="4" height="4" rx="1.6"/><rect x="226.0" y="76.2" width="4" height="4" rx="1.6"/><rect x="226.0" y="83.6" width="4" height="4" rx="1.6"/><rect x="226.0" y="90.9" width="4" height="4" rx="1.6"/><rect x="226.0" y="98.3" width="4" height="4" rx="1.6"/><rect x="226.0" y="105.7" width="4" height="4" rx="1.6"/><rect x="226.0" y="113.1" width="4" height="4" rx="1.6"/><rect x="226.0" y="120.5" width="4" height="4" rx="1.6"/><rect x="226.0" y="127.8" width="4" height="4" rx="1.6"/><rect x="226.0" y="135.2" width="4" height="4" rx="1.6"/><rect x="226.0" y="142.6" width="4" height="4" rx="1.6"/><rect x="226.0" y="150.0" width="4" height="4" rx="1.6"/><rect x="226.0" y="157.4" width="4" height="4" rx="1.6"/><rect x="226.0" y="164.7" width="4" height="4" rx="1.6"/><rect x="226.0" y="172.1" width="4" height="4" rx="1.6"/><rect x="226.0" y="179.5" width="4" height="4" rx="1.6"/><rect x="226.0" y="186.9" width="4" height="4" rx="1.6"/><rect x="226.0" y="194.3" width="4" height="4" rx="1.6"/><rect x="226.0" y="201.6" width="4" height="4" rx="1.6"/><rect x="226.0" y="209.0" width="4" height="4" rx="1.6"/><rect x="226.0" y="216.4" width="4" height="4" rx="1.6"/></g>
<g fill="#6fc4cc"><rect x="351.1" y="107.2" width="4" height="4" rx="1.6"/><rect x="358.8" y="107.2" width="4" height="4" rx="1.6"/><rect x="366.4" y="107.2" width="4" height="4" rx="1.6"/><rect x="374.1" y="107.2" width="4" height="4" rx="1.6"/><rect x="381.8" y="107.2" width="4" height="4" rx="1.6"/><rect x="389.5" y="107.2" width="4" height="4" rx="1.6"/><rect x="397.1" y="107.2" width="4" height="4" rx="1.6"/><rect x="404.8" y="107.2" width="4" height="4" rx="1.6"/><rect x="412.5" y="107.2" width="4" height="4" rx="1.6"/><rect x="420.1" y="107.2" width="4" height="4" rx="1.6"/><rect x="427.8" y="107.2" width="4" height="4" rx="1.6"/><rect x="427.8" y="115.0" width="4" height="4" rx="1.6"/><rect x="427.8" y="122.8" width="4" height="4" rx="1.6"/><rect x="427.8" y="130.6" width="4" height="4" rx="1.6"/><rect x="427.8" y="138.5" width="4" height="4" rx="1.6"/><rect x="427.8" y="146.3" width="4" height="4" rx="1.6"/><rect x="427.8" y="154.1" width="4" height="4" rx="1.6"/><rect x="427.8" y="161.9" width="4" height="4" rx="1.6"/></g>
<g fill="#6fc4cc"><rect x="498.5" y="69.1" width="4" height="4" rx="1.6"/><rect x="498.5" y="76.4" width="4" height="4" rx="1.6"/><rect x="498.5" y="83.6" width="4" height="4" rx="1.6"/><rect x="498.5" y="90.9" width="4" height="4" rx="1.6"/><rect x="498.5" y="98.1" width="4" height="4" rx="1.6"/><rect x="498.5" y="105.4" width="4" height="4" rx="1.6"/><rect x="498.5" y="112.6" width="4" height="4" rx="1.6"/><rect x="498.5" y="119.9" width="4" height="4" rx="1.6"/><rect x="498.5" y="127.1" width="4" height="4" rx="1.6"/><rect x="498.5" y="134.4" width="4" height="4" rx="1.6"/><rect x="498.5" y="141.6" width="4" height="4" rx="1.6"/><rect x="498.5" y="148.9" width="4" height="4" rx="1.6"/><rect x="498.5" y="156.1" width="4" height="4" rx="1.6"/><rect x="498.5" y="163.4" width="4" height="4" rx="1.6"/><rect x="498.5" y="170.6" width="4" height="4" rx="1.6"/><rect x="498.5" y="177.9" width="4" height="4" rx="1.6"/><rect x="498.5" y="185.1" width="4" height="4" rx="1.6"/><rect x="498.5" y="192.4" width="4" height="4" rx="1.6"/><rect x="498.5" y="199.6" width="4" height="4" rx="1.6"/><rect x="498.5" y="206.9" width="4" height="4" rx="1.6"/></g>
<g fill="#6fc4cc"><rect x="703.0" y="45.5" width="4" height="4" rx="1.6"/><rect x="695.3" y="45.5" width="4" height="4" rx="1.6"/><rect x="687.6" y="45.5" width="4" height="4" rx="1.6"/><rect x="679.9" y="45.5" width="4" height="4" rx="1.6"/><rect x="672.2" y="45.5" width="4" height="4" rx="1.6"/><rect x="664.5" y="45.5" width="4" height="4" rx="1.6"/><rect x="656.8" y="45.5" width="4" height="4" rx="1.6"/><rect x="649.1" y="45.5" width="4" height="4" rx="1.6"/><rect x="641.4" y="45.5" width="4" height="4" rx="1.6"/><rect x="633.7" y="45.5" width="4" height="4" rx="1.6"/><rect x="626.0" y="45.5" width="4" height="4" rx="1.6"/><rect x="626.0" y="53.4" width="4" height="4" rx="1.6"/><rect x="626.0" y="61.2" width="4" height="4" rx="1.6"/><rect x="626.0" y="69.1" width="4" height="4" rx="1.6"/><rect x="626.0" y="76.9" width="4" height="4" rx="1.6"/><rect x="626.0" y="84.8" width="4" height="4" rx="1.6"/><rect x="626.0" y="92.6" width="4" height="4" rx="1.6"/><rect x="626.0" y="100.5" width="4" height="4" rx="1.6"/></g>
<g fill="#6fc4cc"><rect x="783.8" y="106.9" width="4" height="4" rx="1.6"/><rect x="783.8" y="114.1" width="4" height="4" rx="1.6"/><rect x="783.8" y="121.3" width="4" height="4" rx="1.6"/><rect x="783.8" y="128.5" width="4" height="4" rx="1.6"/><rect x="783.8" y="135.7" width="4" height="4" rx="1.6"/><rect x="783.8" y="142.9" width="4" height="4" rx="1.6"/><rect x="783.8" y="150.1" width="4" height="4" rx="1.6"/><rect x="783.8" y="157.3" width="4" height="4" rx="1.6"/><rect x="783.8" y="164.5" width="4" height="4" rx="1.6"/><rect x="783.8" y="171.7" width="4" height="4" rx="1.6"/><rect x="783.8" y="178.9" width="4" height="4" rx="1.6"/><rect x="783.8" y="186.1" width="4" height="4" rx="1.6"/></g>
<g fill="#6fc4cc"><rect x="348.6" y="494.8" width="4" height="4" rx="1.6"/><rect x="348.6" y="502.7" width="4" height="4" rx="1.6"/><rect x="348.6" y="510.6" width="4" height="4" rx="1.6"/><rect x="348.6" y="518.5" width="4" height="4" rx="1.6"/><rect x="348.6" y="526.5" width="4" height="4" rx="1.6"/><rect x="348.6" y="534.4" width="4" height="4" rx="1.6"/><rect x="348.6" y="542.3" width="4" height="4" rx="1.6"/><rect x="348.6" y="550.2" width="4" height="4" rx="1.6"/><rect x="340.9" y="550.2" width="4" height="4" rx="1.6"/><rect x="333.2" y="550.2" width="4" height="4" rx="1.6"/><rect x="325.5" y="550.2" width="4" height="4" rx="1.6"/><rect x="317.8" y="550.2" width="4" height="4" rx="1.6"/><rect x="310.1" y="550.2" width="4" height="4" rx="1.6"/><rect x="302.3" y="550.2" width="4" height="4" rx="1.6"/><rect x="294.6" y="550.2" width="4" height="4" rx="1.6"/><rect x="286.9" y="550.2" width="4" height="4" rx="1.6"/><rect x="279.2" y="550.2" width="4" height="4" rx="1.6"/><rect x="271.5" y="550.2" width="4" height="4" rx="1.6"/></g>
<g fill="#6fc4cc"><rect x="398.6" y="397.7" width="4" height="4" rx="1.6"/><rect x="398.6" y="405.0" width="4" height="4" rx="1.6"/><rect x="398.6" y="412.4" width="4" height="4" rx="1.6"/><rect x="398.6" y="419.7" width="4" height="4" rx="1.6"/><rect x="398.6" y="427.1" width="4" height="4" rx="1.6"/><rect x="398.6" y="434.4" width="4" height="4" rx="1.6"/><rect x="398.6" y="441.8" width="4" height="4" rx="1.6"/><rect x="398.6" y="449.1" width="4" height="4" rx="1.6"/><rect x="398.6" y="456.4" width="4" height="4" rx="1.6"/><rect x="398.6" y="463.8" width="4" height="4" rx="1.6"/><rect x="398.6" y="471.1" width="4" height="4" rx="1.6"/><rect x="398.6" y="478.5" width="4" height="4" rx="1.6"/><rect x="398.6" y="485.8" width="4" height="4" rx="1.6"/><rect x="398.6" y="493.1" width="4" height="4" rx="1.6"/><rect x="398.6" y="500.5" width="4" height="4" rx="1.6"/><rect x="398.6" y="507.8" width="4" height="4" rx="1.6"/><rect x="398.6" y="515.2" width="4" height="4" rx="1.6"/><rect x="398.6" y="522.5" width="4" height="4" rx="1.6"/><rect x="398.6" y="529.9" width="4" height="4" rx="1.6"/><rect x="398.6" y="537.2" width="4" height="4" rx="1.6"/><rect x="398.6" y="544.5" width="4" height="4" rx="1.6"/><rect x="398.6" y="551.9" width="4" height="4" rx="1.6"/><rect x="398.6" y="559.2" width="4" height="4" rx="1.6"/><rect x="398.6" y="566.6" width="4" height="4" rx="1.6"/><rect x="398.6" y="573.9" width="4" height="4" rx="1.6"/><rect x="398.6" y="581.3" width="4" height="4" rx="1.6"/><rect x="398.6" y="588.6" width="4" height="4" rx="1.6"/></g>
<g fill="#6fc4cc"><rect x="590.9" y="381.1" width="4" height="4" rx="1.6"/><rect x="590.9" y="388.5" width="4" height="4" rx="1.6"/><rect x="590.9" y="395.9" width="4" height="4" rx="1.6"/><rect x="590.9" y="403.3" width="4" height="4" rx="1.6"/><rect x="590.9" y="410.7" width="4" height="4" rx="1.6"/><rect x="590.9" y="418.1" width="4" height="4" rx="1.6"/><rect x="590.9" y="425.5" width="4" height="4" rx="1.6"/><rect x="590.9" y="432.9" width="4" height="4" rx="1.6"/><rect x="590.9" y="440.3" width="4" height="4" rx="1.6"/><rect x="590.9" y="447.7" width="4" height="4" rx="1.6"/><rect x="590.9" y="455.1" width="4" height="4" rx="1.6"/><rect x="590.9" y="462.5" width="4" height="4" rx="1.6"/><rect x="590.9" y="469.9" width="4" height="4" rx="1.6"/><rect x="590.9" y="477.3" width="4" height="4" rx="1.6"/><rect x="590.9" y="484.8" width="4" height="4" rx="1.6"/><rect x="590.9" y="492.2" width="4" height="4" rx="1.6"/><rect x="590.9" y="499.6" width="4" height="4" rx="1.6"/><rect x="590.9" y="507.0" width="4" height="4" rx="1.6"/><rect x="590.9" y="514.4" width="4" height="4" rx="1.6"/><rect x="590.9" y="521.8" width="4" height="4" rx="1.6"/><rect x="590.9" y="529.2" width="4" height="4" rx="1.6"/><rect x="590.9" y="536.6" width="4" height="4" rx="1.6"/><rect x="590.9" y="544.0" width="4" height="4" rx="1.6"/><rect x="590.9" y="551.4" width="4" height="4" rx="1.6"/><rect x="590.9" y="558.8" width="4" height="4" rx="1.6"/><rect x="590.9" y="566.2" width="4" height="4" rx="1.6"/><rect x="590.9" y="573.6" width="4" height="4" rx="1.6"/><rect x="590.9" y="581.0" width="4" height="4" rx="1.6"/><rect x="590.9" y="588.4" width="4" height="4" rx="1.6"/><rect x="598.5" y="588.4" width="4" height="4" rx="1.6"/><rect x="606.1" y="588.4" width="4" height="4" rx="1.6"/><rect x="613.7" y="588.4" width="4" height="4" rx="1.6"/><rect x="621.3" y="588.4" width="4" height="4" rx="1.6"/><rect x="628.9" y="588.4" width="4" height="4" rx="1.6"/><rect x="636.5" y="588.4" width="4" height="4" rx="1.6"/><rect x="644.1" y="588.4" width="4" height="4" rx="1.6"/><rect x="651.7" y="588.4" width="4" height="4" rx="1.6"/><rect x="659.3" y="588.4" width="4" height="4" rx="1.6"/></g>
<g fill="#6fc4cc"><rect x="758.5" y="495.0" width="4" height="4" rx="1.6"/><rect x="758.5" y="502.9" width="4" height="4" rx="1.6"/><rect x="758.5" y="510.8" width="4" height="4" rx="1.6"/><rect x="758.5" y="518.7" width="4" height="4" rx="1.6"/><rect x="758.5" y="526.5" width="4" height="4" rx="1.6"/><rect x="758.5" y="534.4" width="4" height="4" rx="1.6"/><rect x="758.5" y="542.3" width="4" height="4" rx="1.6"/><rect x="758.5" y="550.2" width="4" height="4" rx="1.6"/><rect x="766.2" y="550.2" width="4" height="4" rx="1.6"/><rect x="773.8" y="550.2" width="4" height="4" rx="1.6"/><rect x="781.5" y="550.2" width="4" height="4" rx="1.6"/><rect x="789.1" y="550.2" width="4" height="4" rx="1.6"/><rect x="796.8" y="550.2" width="4" height="4" rx="1.6"/><rect x="804.5" y="550.2" width="4" height="4" rx="1.6"/><rect x="812.1" y="550.2" width="4" height="4" rx="1.6"/><rect x="819.8" y="550.2" width="4" height="4" rx="1.6"/><rect x="827.4" y="550.2" width="4" height="4" rx="1.6"/><rect x="835.1" y="550.2" width="4" height="4" rx="1.6"/></g>
</g>
<g id="rings">
<circle cx="228.0" cy="232.5" r="7.6" fill="#fff" stroke="#6fc4cc" stroke-width="3.4"/>
<circle cx="429.8" cy="179.0" r="7.6" fill="#fff" stroke="#6fc4cc" stroke-width="3.4"/>
<circle cx="500.5" cy="223.3" r="7.6" fill="#fff" stroke="#6fc4cc" stroke-width="3.4"/>
<circle cx="628.0" cy="117.5" r="7.6" fill="#fff" stroke="#6fc4cc" stroke-width="3.4"/>
<circle cx="786.0" cy="202.5" r="7.6" fill="#fff" stroke="#6fc4cc" stroke-width="3.4"/>
<circle cx="350.6" cy="481.9" r="7.6" fill="#fff" stroke="#6fc4cc" stroke-width="3.4"/>
<circle cx="400.7" cy="385.4" r="7.6" fill="#fff" stroke="#6fc4cc" stroke-width="3.4"/>
<circle cx="592.9" cy="367.8" r="7.6" fill="#fff" stroke="#6fc4cc" stroke-width="3.4"/>
<circle cx="760.5" cy="481.6" r="7.6" fill="#fff" stroke="#6fc4cc" stroke-width="3.4"/>
</g>
<g id="labels">
<text x="191.8" y="33.0" textLength="73.2" lengthAdjust="spacing" text-anchor="start">parcerias</text>
<text x="189.3" y="52.5" textLength="77.0" lengthAdjust="spacing" text-anchor="start">principais</text>
<text x="246.0" y="113.8" textLength="89.0" lengthAdjust="spacing" text-anchor="start">atividades-</text>
<text x="282.5" y="133.8" textLength="52.5" lengthAdjust="spacing" text-anchor="start">-chave</text>
<text x="427.0" y="55.0" textLength="143.3" lengthAdjust="spacing" text-anchor="start">proposta de valor</text>
<text x="722.5" y="31.8" textLength="125.0" lengthAdjust="spacing" text-anchor="start">relacionamento</text>
<text x="722.5" y="51.3" textLength="101.3" lengthAdjust="spacing" text-anchor="start">com clientes</text>
<text x="755.8" y="93.8" textLength="172.3" lengthAdjust="spacing" text-anchor="start">segmento de clientes</text>
<text x="99.5" y="555.5" textLength="157.0" lengthAdjust="spacing" text-anchor="start">estrutura de custos</text>
<text x="324.8" y="616.8" textLength="151.3" lengthAdjust="spacing" text-anchor="start">recursos principais</text>
<text x="678.3" y="593.5" textLength="50.0" lengthAdjust="spacing" text-anchor="start">canais</text>
<text x="856.0" y="556.0" textLength="67.5" lengthAdjust="spacing" text-anchor="start">fonte de</text>
<text x="856.0" y="575.5" textLength="62.0" lengthAdjust="spacing" text-anchor="start">receitas</text>
</g>
</svg>
</body></html>
